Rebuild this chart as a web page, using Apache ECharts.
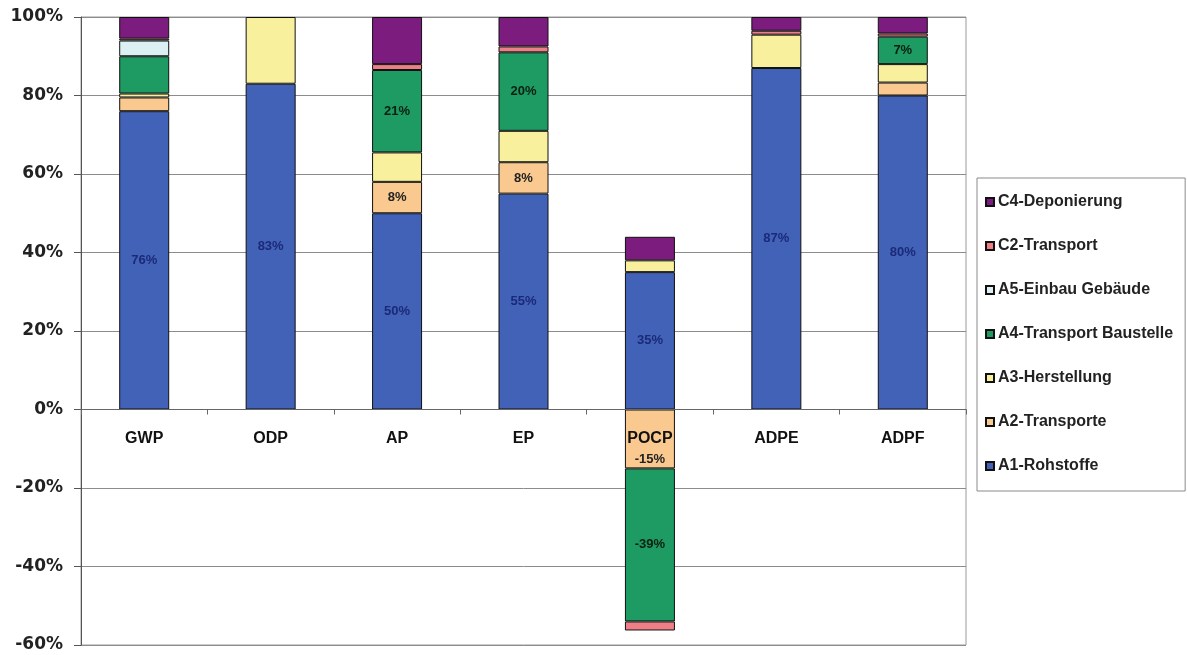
<!DOCTYPE html>
<html>
<head>
<meta charset="utf-8">
<script src="https://cdn.jsdelivr.net/npm/echarts@6/dist/echarts.min.js"></script>
<style>
  html, body { margin: 0; padding: 0; background: #fff; }
  #chart { width: 1187px; height: 655px; }
</style>
</head>
<body>
<div id="chart"></div>
<script>
// Life-cycle phase shares per impact category (percent)
const categories = ['GWP', 'ODP', 'AP', 'EP', 'POCP', 'ADPE', 'ADPF'];

const a1Rohstoffe   = [76, 83, 50, 55, 35, 87, 80];
const a2Transporte  = [3.5, null, 8, 8, -15, null, 3.3];
const a3Herstellung = [1, 17, 7.5, 8, 3, 8.5, 4.7];
const a4Baustelle   = [9.5, null, 21, 20, -39, null, 7];
const a5Einbau      = [4, null, null, null, null, null, null];
const c2Transport   = [0.5, null, 1.5, 1.5, -2.3, 1, 0.8];
const c4Deponierung = [5.5, null, 12, 7.5, 6, 3.5, 4.2];

const yTicks = { min: -60, max: 100, step: 20 };

// which bars of each phase carry a value label
const labelled = {
  'A1-Rohstoffe': [0, 1, 2, 3, 4, 5, 6],
  'A2-Transporte': [2, 3, 4],
  'A4-Transport Baustelle': [2, 3, 4, 6]
};

const phases = [
  { name: 'A1-Rohstoffe', data: a1Rohstoffe, color: '#4262b8', text: '#1b2a78' },
  { name: 'A2-Transporte', data: a2Transporte, color: '#f9c98f', text: '#222' },
  { name: 'A3-Herstellung', data: a3Herstellung, color: '#f8f09c', text: '#222' },
  { name: 'A4-Transport Baustelle', data: a4Baustelle, color: '#1d9b62', text: '#0b1f12' },
  { name: 'A5-Einbau Gebäude', data: a5Einbau, color: '#dcf0f4', text: '#222' },
  { name: 'C2-Transport', data: c2Transport, color: '#ee7f86', text: '#222' },
  { name: 'C4-Deponierung', data: c4Deponierung, color: '#7b1c7e', text: '#222' }
];

const series = phases.map(p => {
  const shown = labelled[p.name] || [];
  return {
    name: p.name,
    type: 'bar',
    stack: 'total',
    barWidth: 50,
    itemStyle: { color: p.color, borderColor: '#111', borderWidth: 1 },
    data: p.data.map((v, i) => {
      if (v === null) return '-';
      const item = { value: v };
      if (shown.includes(i)) {
        item.label = {
          show: true,
          position: v < 0 && p.name === 'A2-Transporte' ? 'insideBottom' : 'inside',
          distance: 2,
          formatter: d => Math.round(d.value) + '%',
          color: p.text,
          fontFamily: 'Liberation Sans',
          fontWeight: 'bold',
          fontSize: 13
        };
      }
      return item;
    })
  };
});

// plot frame and the offset that lifts the category axis onto the 0% line
const gridBox = { left: 81, right: 221, top: 17, bottom: 10 };
const plotHeight = 655 - gridBox.top - gridBox.bottom;
const zeroLift = plotHeight * (0 - yTicks.min) / (yTicks.max - yTicks.min);

const chart = echarts.init(document.getElementById('chart'), null, { renderer: 'canvas' });
chart.setOption({
  animation: false,
  backgroundColor: '#fff',
  grid: Object.assign({
    show: true, borderColor: '#9a9a9a', borderWidth: 1, backgroundColor: '#fff',
    containLabel: false, outerBoundsMode: 'none'
  }, gridBox),
  legend: {
    orient: 'vertical',
    left: 977, top: 178,
    padding: [16, 12, 17, 8],
    borderColor: '#8a8a8a', borderWidth: 1,
    itemWidth: 8, itemHeight: 8, itemGap: 28,
    icon: 'rect',
    data: ['C4-Deponierung', 'C2-Transport', 'A5-Einbau Gebäude', 'A4-Transport Baustelle',
           'A3-Herstellung', 'A2-Transporte', 'A1-Rohstoffe'],
    textStyle: { fontFamily: 'Liberation Sans', fontWeight: 'bold', fontSize: 16, color: '#222', lineHeight: 16, padding: [0, 0, 0, -1] }
  },
  xAxis: {
    type: 'category',
    data: categories,
    z: 5,
    position: 'bottom',
    offset: -zeroLift,
    axisLine: { onZero: false, lineStyle: { color: '#666', width: 1 } },
    axisTick: { show: true, length: 5, lineStyle: { color: '#666' } },
    axisLabel: { margin: 21, fontFamily: 'Liberation Sans', fontWeight: 'bold', fontSize: 16, color: '#111' },
    splitLine: { show: false }
  },
  yAxis: {
    type: 'value',
    min: yTicks.min, max: yTicks.max, interval: yTicks.step,
    axisLine: { show: true, lineStyle: { color: '#555' } },
    axisTick: { show: true, length: 7, lineStyle: { color: '#555' } },
    axisLabel: { margin: 18, formatter: '{value}%', fontFamily: 'DejaVu Sans', fontWeight: 'bold', fontSize: 17, color: '#222' },
    splitLine: { show: true, lineStyle: { color: '#8c8c8c', width: 1 } }
  },
  series: series
});
</script>
</body>
</html>
